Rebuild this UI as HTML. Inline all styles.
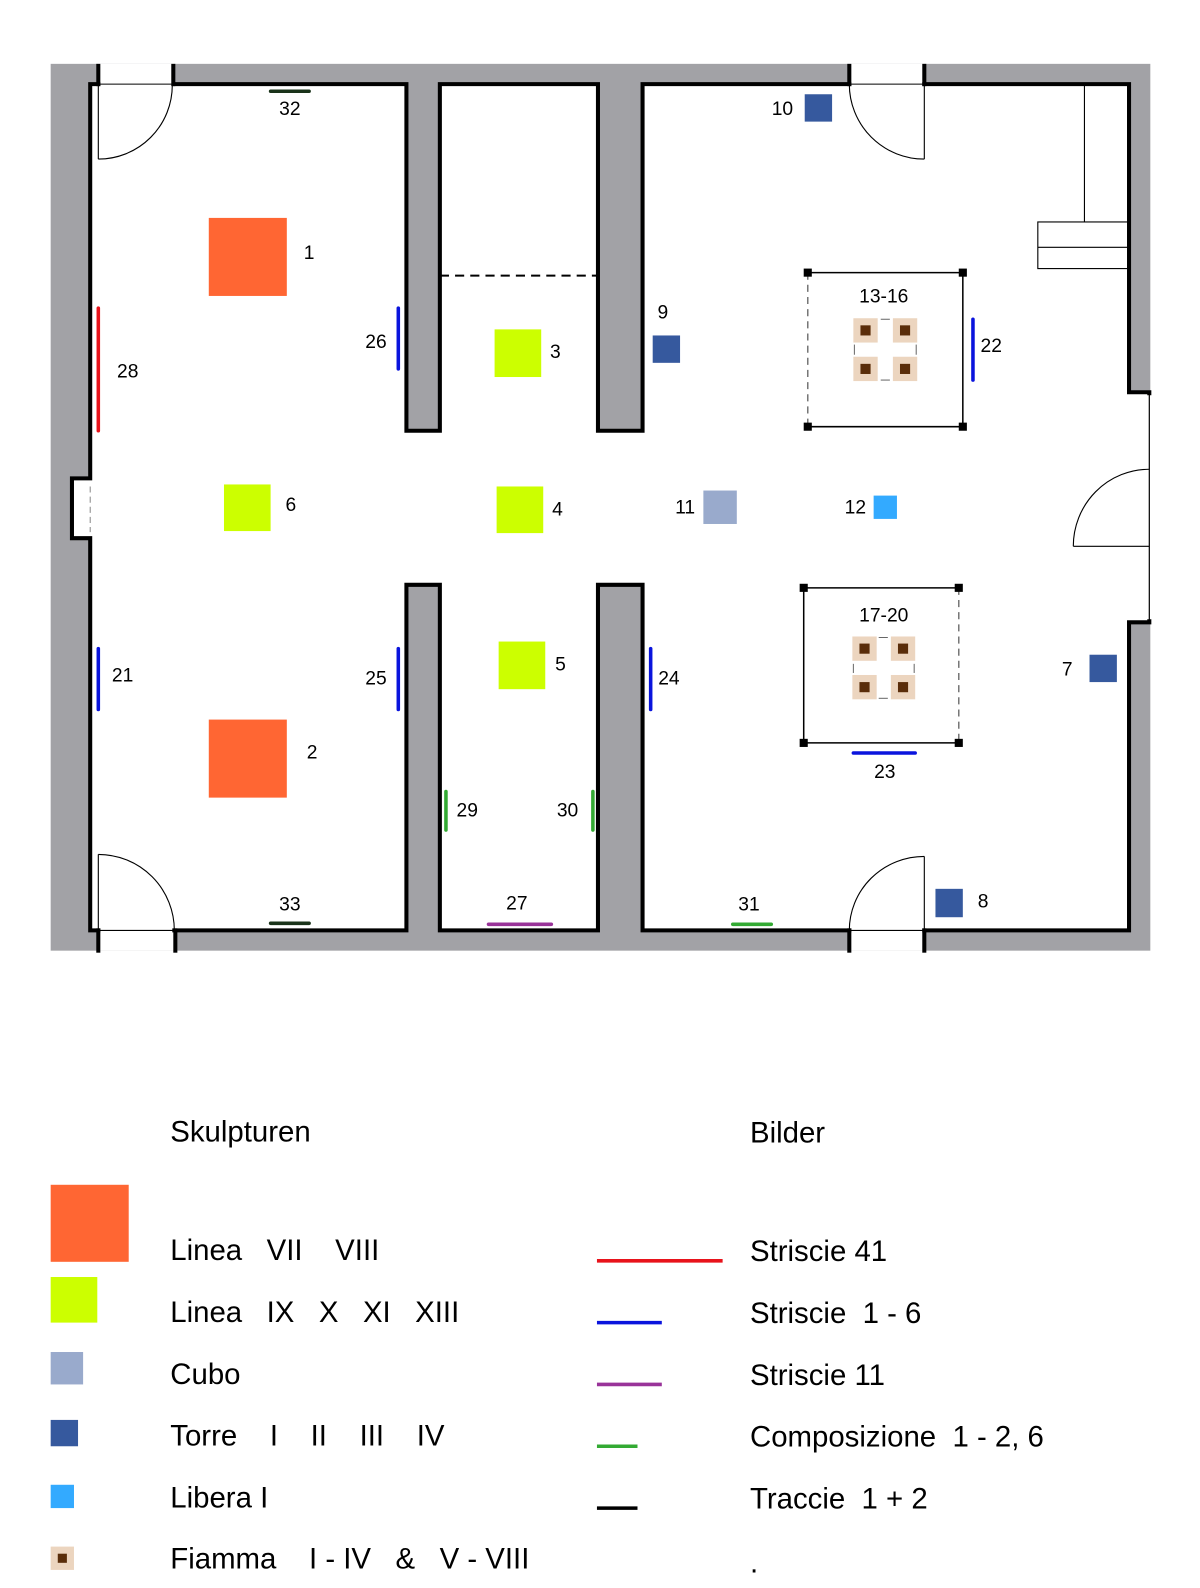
<!DOCTYPE html>
<html><head><meta charset="utf-8"><style>html,body{margin:0;padding:0;background:#fff;overflow:hidden;width:1200px;height:1588px}svg{display:block;position:absolute;left:0;top:0}</style></head>
<body>
<svg width="1200" height="1588" viewBox="0 0 1200 1588" xmlns="http://www.w3.org/2000/svg" font-family="Liberation Sans, Arial, sans-serif">
<g transform="scale(1.0135)">
<rect x="50" y="63" width="1085" height="875" fill="#a2a2a6"/>
<rect x="97" y="63" width="75" height="22" fill="#fff"/>
<rect x="97" y="916" width="75" height="22" fill="#fff"/>
<rect x="838" y="63" width="74" height="22" fill="#fff"/>
<rect x="838" y="916" width="74" height="22" fill="#fff"/>
<rect x="1114" y="387" width="22" height="227" fill="#fff"/>
<path d="M89,83 H401 V425 H434 V83 H590 V425 H634 V83 H1114 V387 H1134 V614 H1114 V918 H634 V577 H590 V918 H434 V577 H401 V918 H89 V531 H71 V472 H89 Z" fill="#fff" stroke="#000" stroke-width="4" stroke-linejoin="miter"/>
<line x1="99" y1="83" x2="170" y2="83" stroke="#fff" stroke-width="5"/>
<line x1="99" y1="918" x2="170" y2="918" stroke="#fff" stroke-width="5"/>
<line x1="840" y1="83" x2="910" y2="83" stroke="#fff" stroke-width="5"/>
<line x1="840" y1="918" x2="910" y2="918" stroke="#fff" stroke-width="5"/>
<line x1="1134" y1="390" x2="1134" y2="611" stroke="#fff" stroke-width="5"/>
<line x1="1134" y1="389" x2="1134" y2="612" stroke="#000" stroke-width="1.2"/>
<line x1="89" y1="476" x2="89" y2="527" stroke="#fff" stroke-width="5"/>
<line x1="89" y1="480" x2="89" y2="525" stroke="#888" stroke-width="1" stroke-dasharray="6,4"/>
<g fill="none" stroke="#000" stroke-width="1.1">
<line x1="97" y1="83" x2="170" y2="83"/><line x1="97" y1="83" x2="97" y2="157"/><path d="M97,157 A73,73 0 0 0 170,84"/>
<line x1="97" y1="918" x2="172" y2="918"/><line x1="97" y1="918" x2="97" y2="843"/><path d="M97,843 A75,75 0 0 1 172,918"/>
<line x1="838" y1="83" x2="912" y2="83"/><line x1="912" y1="83" x2="912" y2="157"/><path d="M838,83 A74,74 0 0 0 912,157"/>
<line x1="838" y1="918" x2="912" y2="918"/><line x1="912" y1="918" x2="912" y2="845"/><path d="M838,918 A74,73 0 0 1 912,845"/>
<line x1="1059" y1="539" x2="1134" y2="539"/><path d="M1059,539 A75,76 0 0 1 1134,463"/>
<line x1="1070" y1="83" x2="1070" y2="219"/>
<rect x="1024" y="219" width="90" height="46"/><line x1="1024" y1="244" x2="1114" y2="244"/>
</g>
<g stroke="#000" stroke-width="4">
<line x1="97" y1="63" x2="97" y2="85"/><line x1="171" y1="63" x2="171" y2="85"/>
<line x1="97" y1="916" x2="97" y2="940"/><line x1="173" y1="916" x2="173" y2="940"/>
<line x1="838" y1="63" x2="838" y2="85"/><line x1="912" y1="63" x2="912" y2="85"/>
<line x1="838" y1="916" x2="838" y2="940"/><line x1="912" y1="916" x2="912" y2="940"/>
</g>
<line x1="434" y1="272" x2="590" y2="272" stroke="#000" stroke-width="2" stroke-dasharray="9,6"/>
<g fill="none" stroke-width="1.5">
<path d="M797,269 H950 V421 H797" stroke="#000"/>
<line x1="797" y1="269" x2="797" y2="421" stroke="#777" stroke-dasharray="7,5"/>
<path d="M793,580 H946 M793,580 V733 H946" stroke="#000"/>
<line x1="946" y1="580" x2="946" y2="733" stroke="#777" stroke-dasharray="7,5"/>
</g>
<g fill="#000">
<rect x="793" y="265" width="8" height="8"/><rect x="946" y="265" width="8" height="8"/><rect x="793" y="417" width="8" height="8"/><rect x="946" y="417" width="8" height="8"/>
<rect x="789" y="576" width="8" height="8"/><rect x="942" y="576" width="8" height="8"/><rect x="789" y="729" width="8" height="8"/><rect x="942" y="729" width="8" height="8"/>
</g>
<g fill="#ecd5bf">
<rect x="842" y="314" width="24" height="24"/><rect x="881" y="314" width="24" height="24"/><rect x="842" y="352" width="24" height="24"/><rect x="881" y="352" width="24" height="24"/>
<rect x="841" y="628" width="24" height="24"/><rect x="879" y="628" width="24" height="24"/><rect x="841" y="666" width="24" height="24"/><rect x="879" y="666" width="24" height="24"/>
</g>
<g fill="#5a2d0a">
<rect x="849" y="321" width="10" height="10"/><rect x="888" y="321" width="10" height="10"/><rect x="849" y="359" width="10" height="10"/><rect x="888" y="359" width="10" height="10"/>
<rect x="848" y="635" width="10" height="10"/><rect x="886" y="635" width="10" height="10"/><rect x="848" y="673" width="10" height="10"/><rect x="886" y="673" width="10" height="10"/>
</g>
<g stroke="#666" stroke-width="1">
<line x1="869" y1="315" x2="878" y2="315"/><line x1="869" y1="375" x2="878" y2="375"/><line x1="843" y1="340" x2="843" y2="350"/><line x1="904" y1="340" x2="904" y2="350"/>
<line x1="867" y1="629" x2="876" y2="629"/><line x1="867" y1="689" x2="876" y2="689"/><line x1="842" y1="655" x2="842" y2="664"/><line x1="902" y1="655" x2="902" y2="664"/>
</g>
<rect x="206" y="215" width="77" height="77" fill="#ff6633"/>
<rect x="206" y="710" width="77" height="77" fill="#ff6633"/>
<g fill="#ccff00">
<rect x="488" y="325" width="46" height="47"/><rect x="490" y="480" width="46" height="46"/><rect x="492" y="633" width="46" height="47"/><rect x="221" y="478" width="46" height="46"/>
</g>
<g fill="#36599e">
<rect x="644" y="331" width="27" height="27"/><rect x="794" y="93" width="27" height="27"/><rect x="1075" y="646" width="27" height="27"/><rect x="923" y="877" width="27" height="28"/>
</g>
<rect x="694" y="484" width="33" height="33" fill="#99aacc"/>
<rect x="862" y="489" width="23" height="23" fill="#33aaff"/>
<g stroke-width="3.5" stroke-linecap="round">
<line x1="267" y1="90" x2="305" y2="90" stroke="#1a331a"/>
<line x1="267" y1="911" x2="305" y2="911" stroke="#1a331a"/>
<line x1="97" y1="304" x2="97" y2="425" stroke="#e8131b"/>
<g stroke="#0a14dd">
<line x1="393" y1="304" x2="393" y2="364"/><line x1="393" y1="640" x2="393" y2="700"/><line x1="97" y1="640" x2="97" y2="700"/>
<line x1="642" y1="640" x2="642" y2="700"/><line x1="960" y1="315" x2="960" y2="375"/><line x1="842" y1="743" x2="903" y2="743"/>
</g>
<g stroke="#33aa33"><line x1="440" y1="781" x2="440" y2="819"/><line x1="585" y1="781" x2="585" y2="819"/><line x1="723" y1="912" x2="761" y2="912"/></g>
<line x1="482" y1="912" x2="544" y2="912" stroke="#993399"/>
</g>
<g font-size="19" fill="#000" text-anchor="middle" dominant-baseline="central">
<text x="286" y="108">32</text><text x="286" y="893">33</text><text x="305" y="250">1</text><text x="308" y="743">2</text>
<text x="548" y="348">3</text><text x="550" y="503">4</text><text x="553" y="656">5</text><text x="287" y="499">6</text>
<text x="654" y="309">9</text><text x="772" y="108">10</text><text x="676" y="501">11</text><text x="844" y="501">12</text>
<text x="1053" y="661">7</text><text x="970" y="890">8</text><text x="872" y="293">13-16</text><text x="872" y="608">17-20</text>
<text x="126" y="367">28</text><text x="371" y="338">26</text><text x="371" y="670">25</text><text x="121" y="667">21</text>
<text x="660" y="670">24</text><text x="978" y="342">22</text><text x="873" y="762">23</text><text x="461" y="800">29</text>
<text x="560" y="800">30</text><text x="510" y="892">27</text><text x="739" y="893">31</text>
</g>
<g font-size="29" fill="#000" dominant-baseline="central">
<text x="168" y="1117">Skulpturen</text><text x="740" y="1118">Bilder</text>
<text x="168" y="1234" xml:space="preserve">Linea   VII    VIII</text>
<text x="168" y="1295" xml:space="preserve">Linea   IX   X   XI   XIII</text>
<text x="168" y="1356">Cubo</text>
<text x="168" y="1417" xml:space="preserve">Torre    I    II    III    IV</text>
<text x="168" y="1478">Libera I</text>
<text x="168" y="1538" xml:space="preserve">Fiamma    I - IV   &amp;   V - VIII</text>
<text x="740" y="1235">Striscie 41</text><text x="740" y="1296" xml:space="preserve">Striscie  1 - 6</text>
<text x="740" y="1357">Striscie 11</text><text x="740" y="1418" xml:space="preserve">Composizione  1 - 2, 6</text>
<text x="740" y="1479" xml:space="preserve">Traccie  1 + 2</text><text x="740" y="1542">.</text>
</g>
<rect x="50" y="1169" width="77" height="76" fill="#ff6633"/>
<rect x="50" y="1260" width="46" height="45" fill="#ccff00"/>
<rect x="50" y="1334" width="32" height="32" fill="#99aacc"/>
<rect x="50" y="1401" width="27" height="26" fill="#36599e"/>
<rect x="50" y="1465" width="23" height="23" fill="#33aaff"/>
<rect x="50" y="1526" width="23" height="23" fill="#ecd5bf"/><rect x="57" y="1533" width="9" height="9" fill="#5a2d0a"/>
<g stroke-width="3.5">
<line x1="589" y1="1244" x2="713" y2="1244" stroke="#e8131b"/>
<line x1="589" y1="1305" x2="653" y2="1305" stroke="#0a14dd"/>
<line x1="589" y1="1366" x2="653" y2="1366" stroke="#993399"/>
<line x1="589" y1="1427" x2="629" y2="1427" stroke="#33aa33"/>
<line x1="589" y1="1488" x2="629" y2="1488" stroke="#000"/>
</g>
</g>
</svg>
</body></html>
